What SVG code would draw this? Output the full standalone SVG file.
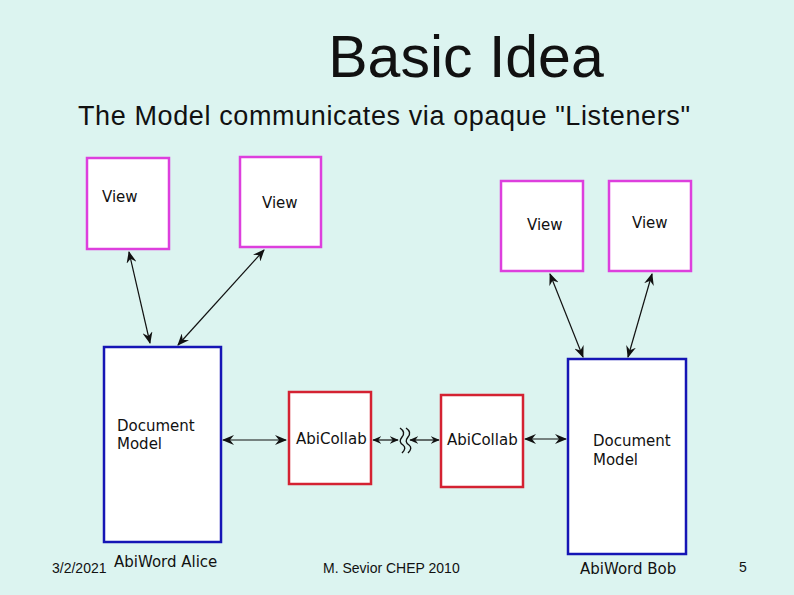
<svg xmlns="http://www.w3.org/2000/svg" width="794" height="595" viewBox="0 0 794 595">
<defs>
<style>
.bg{fill:#DCF4F0}
.view{fill:#fff;stroke:#DD3FDD;stroke-width:2.5}
.doc{fill:#fff;stroke:#1515B5;stroke-width:2.5}
.col{fill:#fff;stroke:#D42232;stroke-width:2.5}
.lbl{font-family:"DejaVu Sans",sans-serif;font-size:15px;fill:#111}
.conn line{stroke:#111;stroke-width:1.2;marker-start:url(#ah);marker-end:url(#ah)}
.conn line.s{marker-start:url(#ahs);marker-end:url(#ahs)}
.wave{fill:none;stroke:#111;stroke-width:1.4}
.slide{font-family:"Liberation Sans",Arial,sans-serif;fill:#111}
</style>
<marker id="ah" viewBox="0 0 12 10" refX="11" refY="5" markerWidth="12" markerHeight="10" markerUnits="userSpaceOnUse" orient="auto-start-reverse">
<path d="M0,0 L12,5 L0,10 L4,5 Z" fill="#111"/>
</marker>
<marker id="ahs" viewBox="0 0 12 10" refX="11" refY="5" markerWidth="9" markerHeight="7.5" markerUnits="userSpaceOnUse" orient="auto-start-reverse">
<path d="M0,0 L12,5 L0,10 L4,5 Z" fill="#111"/>
</marker>
</defs>
<rect class="bg" x="0" y="0" width="794" height="595"/>
<text class="slide" x="466" y="77" font-size="59" text-anchor="middle">Basic Idea</text>
<text class="slide" x="78" y="125" font-size="27" textLength="612" lengthAdjust="spacing">The Model communicates via opaque "Listeners"</text>

<g id="view1"><rect class="view" x="87" y="158" width="82" height="91"/><text class="lbl" x="102" y="202">View</text></g>
<g id="view2"><rect class="view" x="240" y="157" width="81" height="90"/><text class="lbl" x="262" y="208">View</text></g>
<g id="view3"><rect class="view" x="501" y="181" width="82" height="90"/><text class="lbl" x="527" y="230">View</text></g>
<g id="view4"><rect class="view" x="609" y="181" width="82" height="90"/><text class="lbl" x="632" y="228">View</text></g>

<g id="doc1"><rect class="doc" x="104" y="347" width="117" height="195"/><text class="lbl" x="117" y="431">Document</text><text class="lbl" x="117" y="449">Model</text></g>
<g id="collab1"><rect class="col" x="289" y="392" width="82" height="92"/><text class="lbl" x="296" y="444">AbiCollab</text></g>
<g id="collab2"><rect class="col" x="441" y="395" width="82" height="92"/><text class="lbl" x="447" y="445">AbiCollab</text></g>
<g id="doc2"><rect class="doc" x="568" y="359" width="118" height="195"/><text class="lbl" x="593" y="446">Document</text><text class="lbl" x="593" y="465">Model</text></g>

<g id="connectors" class="conn">
<line x1="129" y1="252" x2="150" y2="343"/>
<line x1="264" y1="250" x2="178" y2="345"/>
<line x1="550" y1="274" x2="583" y2="357"/>
<line x1="652" y1="274" x2="628" y2="357"/>
<line x1="223" y1="440" x2="286" y2="440"/>
<line class="s" x1="373" y1="440" x2="398" y2="440"/>
<line class="s" x1="410" y1="440" x2="439" y2="440"/>
<line x1="525" y1="439" x2="566" y2="439"/>
<path class="wave" d="M400,428 q6,4 2,9 q-4,5 1,8 q4,3 -1,8"/>
<path class="wave" d="M406,428 q6,4 2,9 q-4,5 1,8 q4,3 -1,8"/>
</g>

<text class="lbl" x="114" y="567">AbiWord Alice</text>
<text class="lbl" x="580" y="574">AbiWord Bob</text>
<text class="slide" x="52" y="573" font-size="14">3/2/2021</text>
<text class="slide" x="323" y="573" font-size="14">M. Sevior CHEP 2010</text>
<text class="slide" x="739" y="572" font-size="14">5</text>
</svg>
